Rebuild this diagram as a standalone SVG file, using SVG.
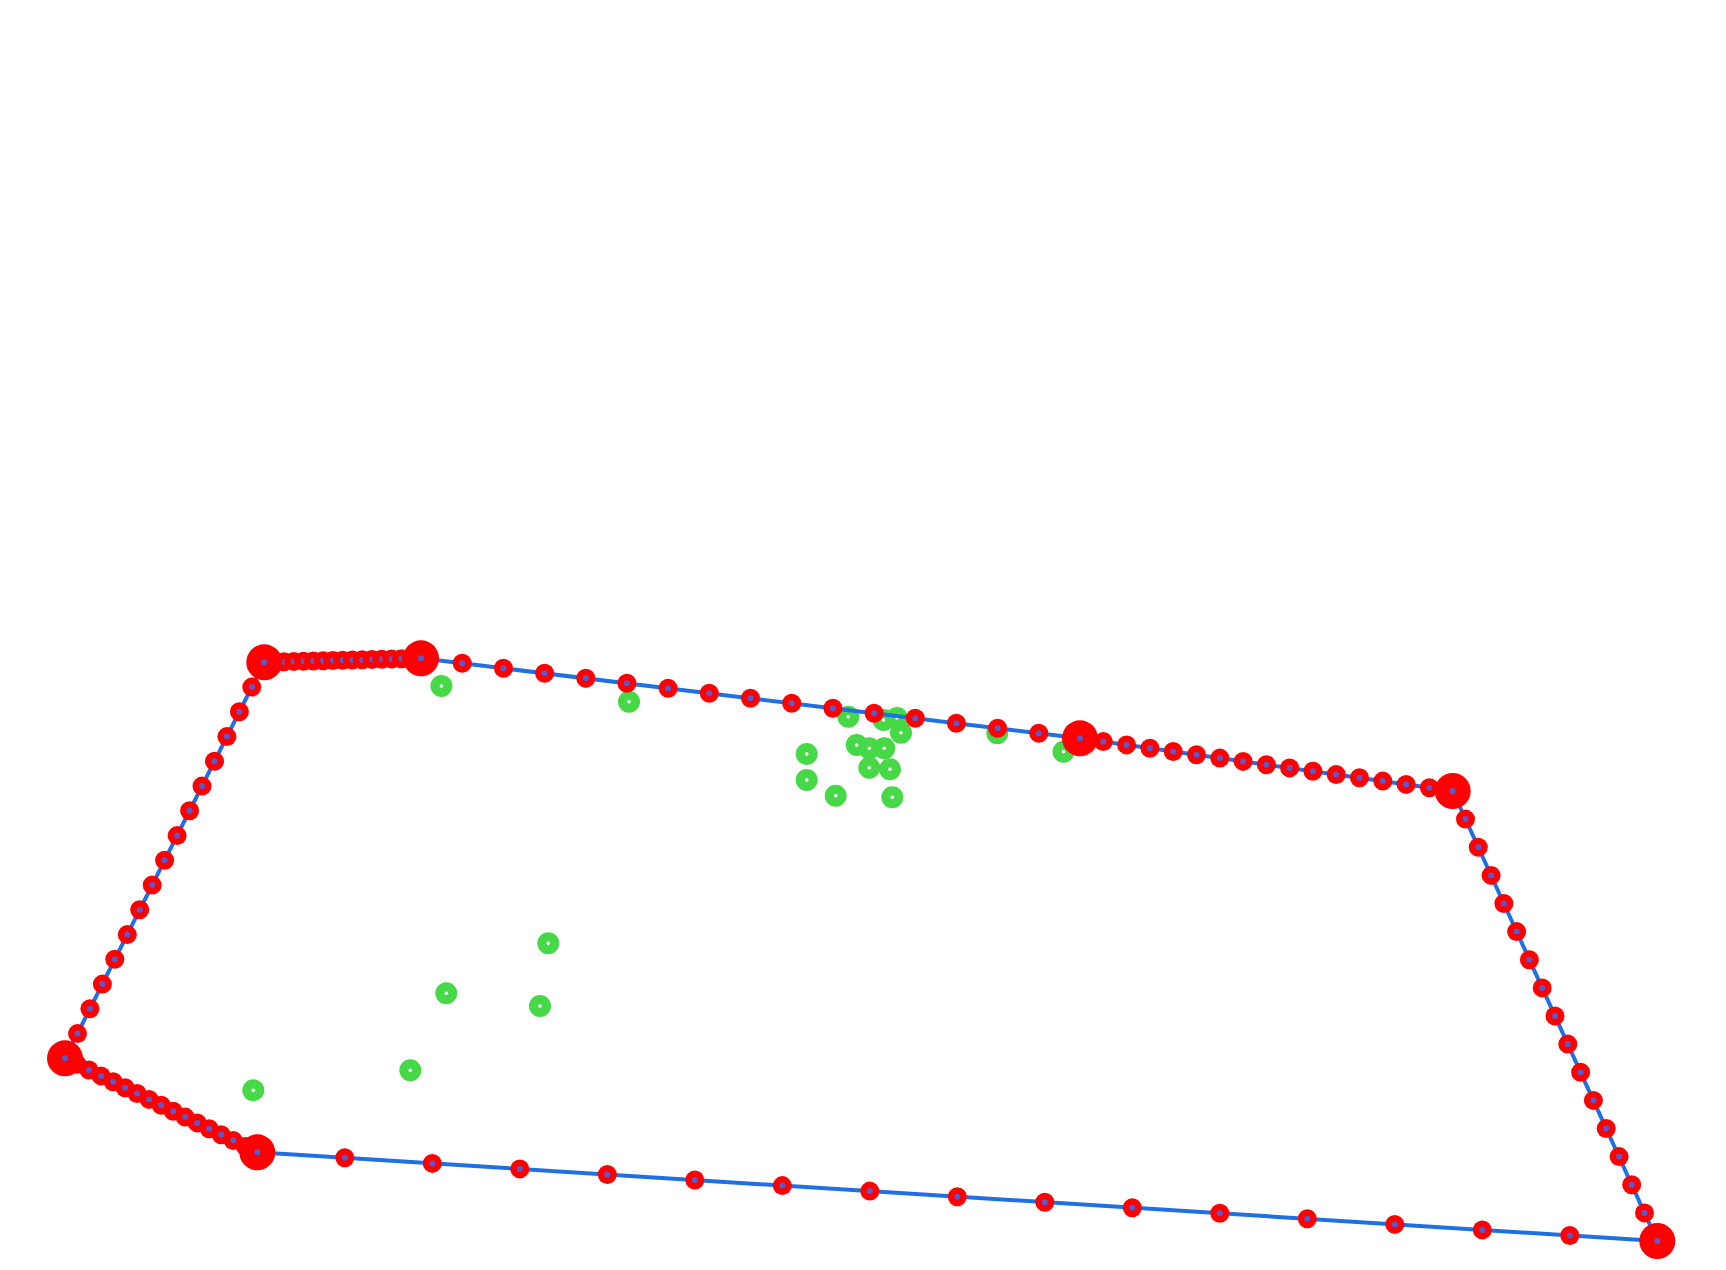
<svg xmlns="http://www.w3.org/2000/svg" xmlns:xlink="http://www.w3.org/1999/xlink" width="1726" height="1270" viewBox="0 0 1726 1270">
<style>
.g{fill:#46d846}
.gd{fill:#ffffff}
.r{fill:#ff0000}
.d{fill:#5a5acf}
.ln{fill:none;stroke:#1f6fe5;stroke-width:4;stroke-linejoin:round}
</style>
<defs>
<g id="gp"><circle class="g" r="11"/><circle class="gd" r="1.8"/></g>
<g id="sp"><circle class="r" r="9.5"/><circle class="d" r="3"/></g>
<g id="bp"><circle class="r" r="18"/><circle class="d" r="3"/></g>
</defs>
<rect width="1726" height="1270" fill="#ffffff"/>
<g id="green-points">
<use href="#gp" x="441.4" y="686"/>
<use href="#gp" x="629" y="701.7"/>
<use href="#gp" x="848.3" y="716.7"/>
<use href="#gp" x="883.5" y="720"/>
<use href="#gp" x="897" y="718"/>
<use href="#gp" x="901" y="732.7"/>
<use href="#gp" x="806.7" y="754"/>
<use href="#gp" x="856.7" y="745"/>
<use href="#gp" x="869.3" y="748.3"/>
<use href="#gp" x="884.3" y="748.3"/>
<use href="#gp" x="869.3" y="767.7"/>
<use href="#gp" x="890" y="769.3"/>
<use href="#gp" x="806.7" y="780"/>
<use href="#gp" x="835.7" y="795.7"/>
<use href="#gp" x="892.3" y="797.3"/>
<use href="#gp" x="997.3" y="733.3"/>
<use href="#gp" x="1063.5" y="751.7"/>
<use href="#gp" x="548.3" y="943.3"/>
<use href="#gp" x="446.3" y="993.3"/>
<use href="#gp" x="540" y="1006"/>
<use href="#gp" x="410.3" y="1070.3"/>
<use href="#gp" x="253.3" y="1090.3"/>
</g>
<g id="connectors">
<polygon class="ln" points="264.3,662.3 421,658.3 1080,738.3 1452.7,791 1657.3,1241 257.3,1152.3 65,1058.3"/>
</g>
<g id="small-points">
<use href="#sp" x="274.1" y="662.05"/><use href="#sp" x="283.9" y="661.8"/><use href="#sp" x="293.7" y="661.55"/><use href="#sp" x="303.5" y="661.3"/><use href="#sp" x="313.3" y="661.05"/><use href="#sp" x="323.1" y="660.8"/><use href="#sp" x="332.9" y="660.55"/><use href="#sp" x="342.7" y="660.3"/><use href="#sp" x="352.4" y="660.05"/><use href="#sp" x="362.2" y="659.8"/><use href="#sp" x="372" y="659.55"/><use href="#sp" x="381.8" y="659.3"/><use href="#sp" x="391.6" y="659.05"/><use href="#sp" x="401.4" y="658.8"/><use href="#sp" x="411.2" y="658.55"/>
<use href="#sp" x="462.2" y="663.3"/><use href="#sp" x="503.4" y="668.3"/><use href="#sp" x="544.6" y="673.3"/><use href="#sp" x="585.8" y="678.3"/><use href="#sp" x="626.9" y="683.3"/><use href="#sp" x="668.1" y="688.3"/><use href="#sp" x="709.3" y="693.3"/><use href="#sp" x="750.5" y="698.3"/><use href="#sp" x="791.7" y="703.3"/><use href="#sp" x="832.9" y="708.3"/><use href="#sp" x="874.1" y="713.3"/><use href="#sp" x="915.3" y="718.3"/><use href="#sp" x="956.4" y="723.3"/><use href="#sp" x="997.6" y="728.3"/><use href="#sp" x="1038.8" y="733.3"/>
<use href="#sp" x="1103.3" y="741.6"/><use href="#sp" x="1126.6" y="744.9"/><use href="#sp" x="1149.9" y="748.2"/><use href="#sp" x="1173.2" y="751.5"/><use href="#sp" x="1196.5" y="754.8"/><use href="#sp" x="1219.8" y="758.1"/><use href="#sp" x="1243.1" y="761.4"/><use href="#sp" x="1266.4" y="764.7"/><use href="#sp" x="1289.6" y="767.9"/><use href="#sp" x="1312.9" y="771.2"/><use href="#sp" x="1336.2" y="774.5"/><use href="#sp" x="1359.5" y="777.8"/><use href="#sp" x="1382.8" y="781.1"/><use href="#sp" x="1406.1" y="784.4"/><use href="#sp" x="1429.4" y="787.7"/>
<use href="#sp" x="1465.5" y="819.1"/><use href="#sp" x="1478.3" y="847.3"/><use href="#sp" x="1491.1" y="875.4"/><use href="#sp" x="1503.9" y="903.5"/><use href="#sp" x="1516.6" y="931.6"/><use href="#sp" x="1529.4" y="959.8"/><use href="#sp" x="1542.2" y="987.9"/><use href="#sp" x="1555" y="1016"/><use href="#sp" x="1567.8" y="1044.1"/><use href="#sp" x="1580.6" y="1072.3"/><use href="#sp" x="1593.4" y="1100.4"/><use href="#sp" x="1606.2" y="1128.5"/><use href="#sp" x="1619.1" y="1156.6"/><use href="#sp" x="1631.7" y="1184.8"/><use href="#sp" x="1644.5" y="1212.9"/>
<use href="#sp" x="1569.8" y="1235.5"/><use href="#sp" x="1482.3" y="1229.9"/><use href="#sp" x="1394.8" y="1224.4"/><use href="#sp" x="1307.3" y="1218.8"/><use href="#sp" x="1219.8" y="1213.3"/><use href="#sp" x="1132.3" y="1207.7"/><use href="#sp" x="1044.8" y="1202.2"/><use href="#sp" x="957.3" y="1196.7"/><use href="#sp" x="869.8" y="1191.1"/><use href="#sp" x="782.3" y="1185.6"/><use href="#sp" x="694.8" y="1180"/><use href="#sp" x="607.3" y="1174.5"/><use href="#sp" x="519.8" y="1168.9"/><use href="#sp" x="432.3" y="1163.4"/><use href="#sp" x="344.8" y="1157.8"/>
<use href="#sp" x="245.3" y="1146.4"/><use href="#sp" x="233.3" y="1140.6"/><use href="#sp" x="221.2" y="1134.7"/><use href="#sp" x="209.2" y="1128.8"/><use href="#sp" x="197.2" y="1122.9"/><use href="#sp" x="185.2" y="1117.1"/><use href="#sp" x="173.2" y="1111.2"/><use href="#sp" x="161.2" y="1105.3"/><use href="#sp" x="149.1" y="1099.4"/><use href="#sp" x="137.1" y="1093.5"/><use href="#sp" x="125.1" y="1087.7"/><use href="#sp" x="113.1" y="1081.8"/><use href="#sp" x="101.1" y="1075.9"/><use href="#sp" x="89" y="1070"/><use href="#sp" x="77" y="1064.2"/>
<use href="#sp" x="77.5" y="1033.6"/><use href="#sp" x="89.9" y="1008.8"/><use href="#sp" x="102.4" y="984.1"/><use href="#sp" x="114.8" y="959.3"/><use href="#sp" x="127.3" y="934.6"/><use href="#sp" x="139.7" y="909.8"/><use href="#sp" x="152.2" y="885.1"/><use href="#sp" x="164.6" y="860.3"/><use href="#sp" x="177.1" y="835.6"/><use href="#sp" x="189.6" y="810.8"/><use href="#sp" x="202" y="786.1"/><use href="#sp" x="214.5" y="761.3"/><use href="#sp" x="226.9" y="736.6"/><use href="#sp" x="239.4" y="711.8"/><use href="#sp" x="251.8" y="687.1"/>
</g>
<g id="vertices">
<use id="vA" href="#bp" x="264.3" y="662.3"/>
<use id="vB" href="#bp" x="421" y="658.3"/>
<use id="vC" href="#bp" x="1080" y="738.3"/>
<use id="vD" href="#bp" x="1452.7" y="791"/>
<use id="vE" href="#bp" x="1657.3" y="1241"/>
<use id="vF" href="#bp" x="257.3" y="1152.3"/>
<use id="vG" href="#bp" x="65" y="1058.3"/>
</g>
</svg>
